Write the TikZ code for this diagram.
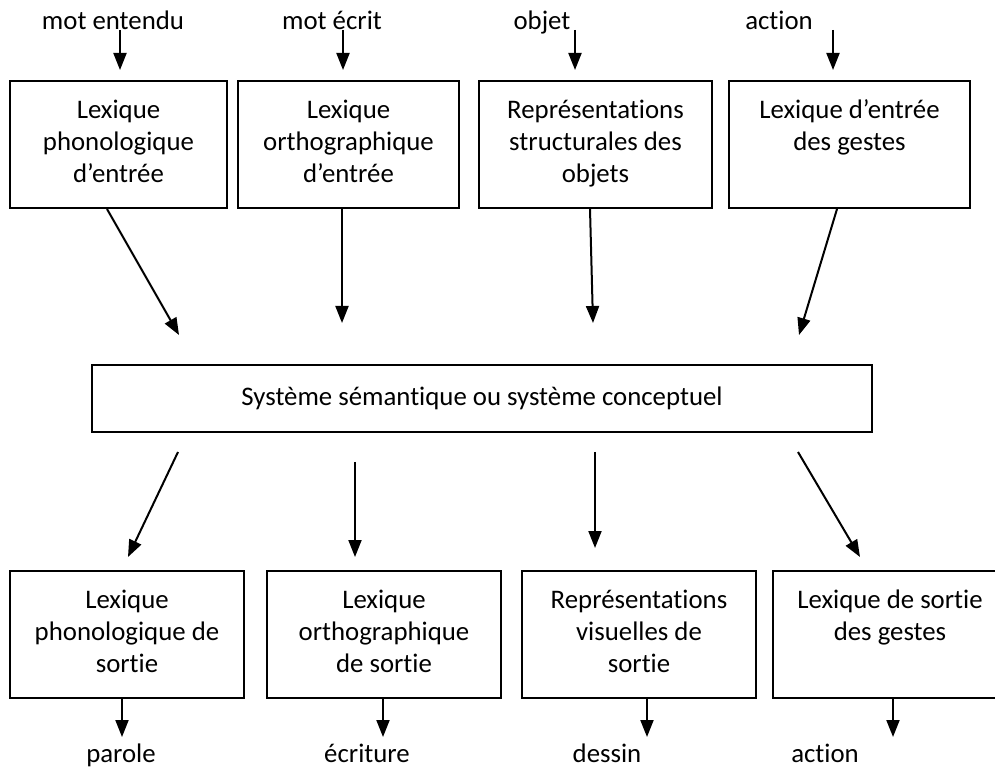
\documentclass[tikz,border=0pt]{standalone}
\usepackage{fontspec}
\setmainfont{Carlito}[Ligatures={TeX,NoCommon}]
\usetikzlibrary{arrows.meta}

\begin{document}
\begin{tikzpicture}[x=0.5pt, y=-0.5pt, line width=1pt,
  font=\fontsize{13.4pt}{16pt}\selectfont,
  lex/.style={draw, inner sep=0pt, align=flush center, minimum height=63.5pt,
    execute at begin node=\strut, execute at end node=\strut},
  lbl/.style={inner sep=0pt, anchor=base},
  arr/.style={-{Triangle[length=8.5pt, width=6.5pt]}, line width=1pt}]%

\clip (0,0) rectangle (995,769);

% entrees
\node[lbl] (I1) at (113,30) {mot entendu};
\node[lbl] (I2) at (332,30) {mot écrit};
\node[lbl] (I3) at (542,30) {objet};
\node[lbl] (I4) at (779,30) {action};

\node[lex, text width=108.5pt] (L1) at (118.5,144.5) {Lexique\\phonologique\\d’entrée};
\node[lex, text width=110.5pt] (L2) at (348.5,144.5) {Lexique\\orthographique\\d’entrée};
\node[lex, text width=116.5pt] (L3) at (595.5,144.5) {Représentations\\structurales des\\objets};
\node[lex, text width=120.5pt] (L4) at (849.5,144.5) {Lexique d’entrée\\des gestes\\\mbox{}};

\node[draw, inner sep=0pt, minimum width=390pt, minimum height=33.5pt] (S) at (482,398.5)
  {Système sémantique ou système conceptuel};

% sorties
\node[lex, text width=117pt] (R1) at (127,634.5) {Lexique\\phonologique de\\sortie};
\node[lex, text width=117pt] (R2) at (384,634.5) {Lexique\\orthographique\\de sortie};
\node[lex, text width=117pt] (R3) at (639,634.5) {Représentations\\visuelles de\\sortie};
\node[lex, text width=117pt] (R4) at (890,634.5) {Lexique de sortie\\des gestes\\\mbox{}};

\node[lbl] (O1) at (121,762) {parole};
\node[lbl] (O2) at (367,762) {écriture};
\node[lbl] (O3) at (607,762) {dessin};
\node[lbl] (O4) at (825,762) {action};

% bouts libres des fleches
\coordinate (i1) at (120,70);
\coordinate (i2) at (343,70);
\coordinate (i3) at (575,70);
\coordinate (i4) at (833,70);
\coordinate (s1) at (179,335);
\coordinate (s2) at (342,323);
\coordinate (s3) at (593,323);
\coordinate (s4) at (799,335);
\coordinate (u1) at (178,452);
\coordinate (u2) at (355,462);
\coordinate (u3) at (595,452);
\coordinate (u4) at (798,452);
\coordinate (v1) at (128,557);
\coordinate (v2) at (355,557);
\coordinate (v3) at (595,548);
\coordinate (v4) at (860,557);
\coordinate (o1) at (122,737);
\coordinate (o2) at (383,737);
\coordinate (o3) at (647,737);
\coordinate (o4) at (893,737);

\draw[arr] (I1.base -| i1) -- (i1);
\draw[arr] (I2.base -| i2) -- (i2);
\draw[arr] (I3.base -| i3) -- (i3);
\draw[arr] (I4.base -| i4) -- (i4);

\draw[arr] (L1.south -| 107,0) -- (s1);
\draw[arr] (L2.south -| s2) -- (s2);
\draw[arr] (L3.south -| 590,0) -- (s3);
\draw[arr] (L4.south -| 837,0) -- (s4);

\draw[arr] (u1) -- (v1);
\draw[arr] (u2) -- (v2);
\draw[arr] (u3) -- (v3);
\draw[arr] (u4) -- (v4);

\draw[arr] (R1.south -| o1) -- (o1);
\draw[arr] (R2.south -| o2) -- (o2);
\draw[arr] (R3.south -| o3) -- (o3);
\draw[arr] (R4.south -| o4) -- (o4);
\end{tikzpicture}
\end{document}
